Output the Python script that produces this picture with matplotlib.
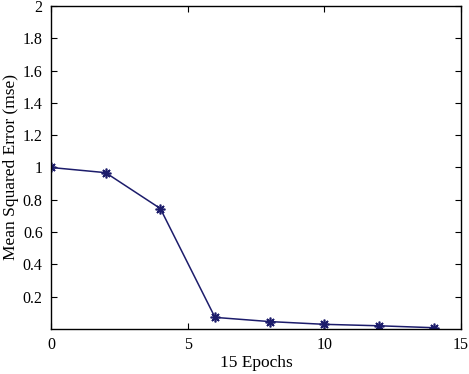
import matplotlib
matplotlib.use("Agg")
import matplotlib.pyplot as plt
import numpy as np

epochs = [0, 2, 4, 6, 8, 10, 12, 14]
mse = [1.0, 0.968, 0.746, 0.072, 0.046, 0.029, 0.02, 0.008]
xticks = [0, 5, 10, 15]
yticks = [0.2, 0.4, 0.6, 0.8, 1.0, 1.2, 1.4, 1.6, 1.8, 2.0]
yticklabels = ["0.2", "0.4", "0.6", "0.8", "1", "1.2", "1.4", "1.6", "1.8", "2"]

plt.rcParams['font.family'] = ['Liberation Serif', 'DejaVu Serif']
plt.rcParams['font.size'] = 11.5

fig = plt.figure(figsize=(4.69, 3.74), dpi=100)
ax = fig.add_axes([0.1087, 0.1203, 0.8743, 0.8637])
ax.plot(epochs, mse, color='#1c1c6b', linewidth=1.1, marker=(8, 2, 0),
        markersize=7, markeredgewidth=1.2, markeredgecolor='#1c1c6b')
ax.set_xlim(0, 15)
ax.set_ylim(0, 2)
ax.set_xticks(xticks)
ax.set_xticklabels([str(t) for t in xticks])
ax.set_yticks(yticks)
ax.set_yticklabels(yticklabels)
ax.tick_params(direction='in', top=True, right=True, length=4, width=0.8, pad=6)
for s in ax.spines.values():
    s.set_linewidth(1.0)
ax.set_xlabel('15 Epochs', labelpad=1, fontsize=12.5)
ax.set_ylabel('Mean Squared Error (mse)', labelpad=3, fontsize=12.5)
fig.savefig('out.png', dpi=100)
